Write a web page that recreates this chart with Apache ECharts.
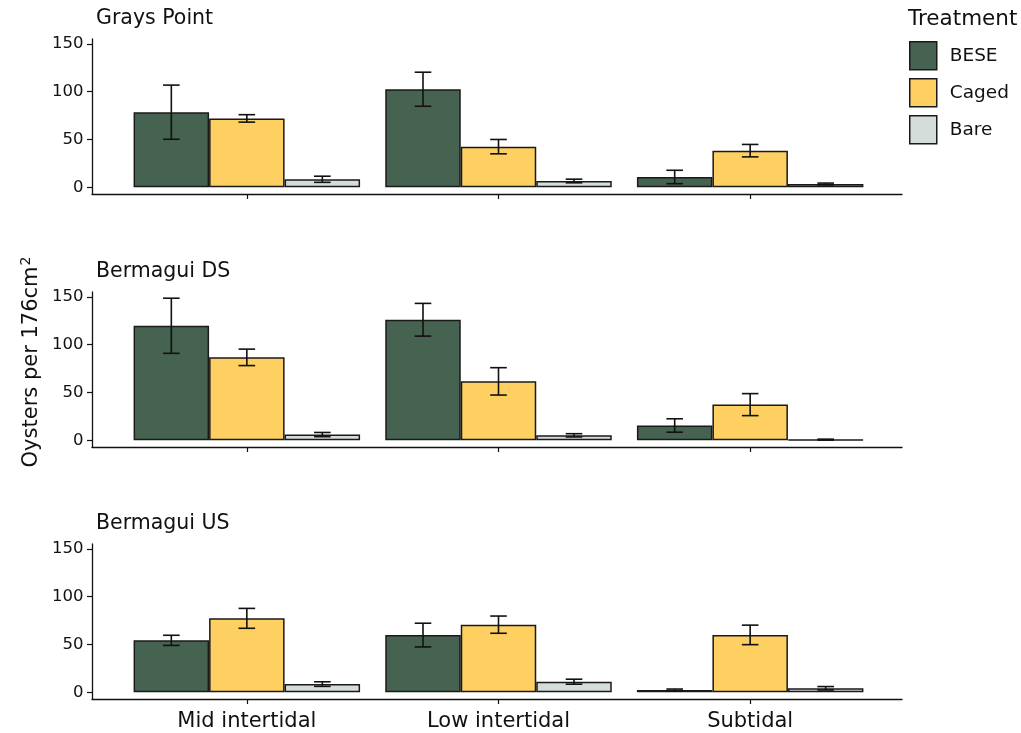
<!DOCTYPE html>
<html>
<head>
<meta charset="utf-8">
<script src="https://cdn.jsdelivr.net/npm/echarts@6/dist/echarts.min.js"></script>
<style>
  html, body { margin: 0; padding: 0; background: #fff; }
  #chart { width: 1021px; height: 733px; }
</style>
</head>
<body>
<div id="chart"></div>
<script>
  // data: mean oysters per 176cm2 and standard error
  const sites = ['Grays Point', 'Bermagui DS', 'Bermagui US']
  const zones = ['Mid intertidal', 'Low intertidal', 'Subtidal']
  const treatments = ['BESE', 'Caged', 'Bare']
  const yTicks = [0, 50, 100, 150]

  const graysBese = [78.5, 102.5, 10.8]
  const graysBeseSE = [28.3, 17.8, 7]
  const graysCaged = [72, 42.5, 38.3]
  const graysCagedSE = [3.9, 7.5, 6.5]
  const graysBare = [8.4, 6.6, 3.5]
  const graysBareSE = [3.2, 1.9, 0.9]

  const dsBese = [119.7, 126, 15.5]
  const dsBeseSE = [28.8, 17.1, 7]
  const dsCaged = [86.7, 61.6, 37.3]
  const dsCagedSE = [8.6, 14.3, 11.5]
  const dsBare = [6, 5.2, 0.7]
  const dsBareSE = [2.2, 1.7, 0.5]

  const usBese = [54.3, 59.8, 2.4]
  const usBeseSE = [5.3, 12.4, 1]
  const usCaged = [77.3, 70.7, 60]
  const usCagedSE = [10.4, 9, 10.2]
  const usBare = [8.6, 11.1, 4.2]
  const usBareSE = [2.4, 2.6, 1.8]

  const means = [
    [graysBese, graysCaged, graysBare],
    [dsBese, dsCaged, dsBare],
    [usBese, usCaged, usBare]
  ]
  const errors = [
    [graysBeseSE, graysCagedSE, graysBareSE],
    [dsBeseSE, dsCagedSE, dsBareSE],
    [usBeseSE, usCagedSE, usBareSE]
  ]

  const colors = ['#466352', '#fed062', '#d4ddda']
  const font = 'DejaVu Sans'
  const ink = '#111'
  const panelTop = [39, 292, 544]
  const panelHeight = 155

  function renderErr (params, api) {
    let band = api.size([1, 0])[0]
    let barW = band * 0.3
    let x = api.coord([api.value(0), 0])[0] + (api.value(3) - 1) * barW
    let yLo = api.coord([api.value(0), api.value(1)])[1]
    let yHi = api.coord([api.value(0), api.value(2)])[1]
    let cap = barW * 0.11
    let style = { stroke: ink, lineWidth: 1.6 }
    return {
      type: 'group',
      children: [
        { type: 'line', shape: { x1: x, y1: yLo, x2: x, y2: yHi }, style: style },
        { type: 'line', shape: { x1: x - cap, y1: yHi, x2: x + cap, y2: yHi }, style: style },
        { type: 'line', shape: { x1: x - cap, y1: yLo, x2: x + cap, y2: yLo }, style: style }
      ]
    }
  }

  let grids = []
  let xAxes = []
  let yAxes = []
  let series = []
  let titles = []

  sites.forEach(function (site, i) {
    let a = i * 2
    let b = i * 2 + 1
    // frame grid: axis lines over the full panel width
    grids.push({ left: 92, right: 119, top: panelTop[i], height: panelHeight, outerBoundsMode: 'none' })
    // bar grid: categories spaced like the ggplot discrete scale
    grids.push({ left: 121, right: 145, top: panelTop[i], height: panelHeight, outerBoundsMode: 'none' })

    xAxes.push({
      gridIndex: a,
      type: 'value',
      min: 0,
      max: 1,
      axisLine: { show: true, onZero: false, lineStyle: { color: ink, width: 1.3 } },
      axisTick: { show: false },
      axisLabel: { show: false },
      splitLine: { show: false }
    })
    xAxes.push({
      gridIndex: b,
      type: 'category',
      data: zones,
      axisLine: { show: false, onZero: false },
      axisTick: { show: true, alignWithLabel: true, length: 5, lineStyle: { color: ink, width: 1.2 } },
      axisLabel: { show: i === 2, fontSize: 21, margin: 12.5, color: ink, fontFamily: font },
      splitLine: { show: false }
    })
    yAxes.push({
      gridIndex: a,
      type: 'value',
      min: -7,
      max: 155,
      axisLine: { show: true, onZero: false, lineStyle: { color: ink, width: 1.3 } },
      axisTick: { show: true, length: 5, customValues: yTicks, lineStyle: { color: ink, width: 1.2 } },
      axisLabel: { customValues: yTicks, fontSize: 16.5, margin: 8.5, color: ink, fontFamily: font },
      splitLine: { show: false }
    })
    yAxes.push({ gridIndex: b, type: 'value', min: -7, max: 155, show: false })

    treatments.forEach(function (t, k) {
      series.push({
        name: t,
        type: 'bar',
        xAxisIndex: b,
        yAxisIndex: b,
        data: means[i][k],
        barWidth: '30%',
        barGap: '0%',
        itemStyle: { color: colors[k], borderColor: '#1a1a1a', borderWidth: 1.5 },
        emphasis: { disabled: true }
      })
    })

    let errData = []
    treatments.forEach(function (t, k) {
      means[i][k].forEach(function (m, z) {
        errData.push([z, m - errors[i][k][z], m + errors[i][k][z], k])
      })
    })
    series.push({
      type: 'custom',
      xAxisIndex: b,
      yAxisIndex: b,
      data: errData,
      encode: { x: 0, y: [1, 2] },
      renderItem: renderErr,
      z: 10,
      silent: true
    })

    titles.push({
      text: site,
      left: 96,
      top: panelTop[i] - 31,
      padding: 0,
      textStyle: { fontSize: 20.5, fontWeight: 'normal', color: ink, fontFamily: font }
    })
  })

  titles.push({
    text: 'Treatment',
    left: 908,
    top: 8,
    padding: 0,
    textStyle: { fontSize: 21.5, fontWeight: 'normal', color: ink, fontFamily: font }
  })

  let myChart = echarts.init(document.getElementById('chart'))
  let option = {
    animation: false,
    textStyle: { fontFamily: font },
    title: titles,
    legend: {
      orient: 'vertical',
      left: 909,
      top: 41,
      padding: 0,
      itemWidth: 27,
      itemHeight: 28,
      itemGap: 7.5,
      icon: 'rect',
      selectedMode: false,
      data: treatments,
      itemStyle: { borderColor: '#1a1a1a', borderWidth: 1.5 },
      textStyle: { fontSize: 18.5, color: ink, fontFamily: font, padding: [0, 0, 0, 8] }
    },
    grid: grids,
    xAxis: xAxes,
    yAxis: yAxes,
    series: series,
    graphic: [{
      type: 'text',
      x: 32,
      y: 362,
      rotation: Math.PI / 2,
      style: {
        text: 'Oysters per 176cm{sup|2}',
        fontSize: 21,
        fontFamily: font,
        fill: ink,
        align: 'center',
        verticalAlign: 'middle',
        rich: {
          sup: { fontSize: 14, fontFamily: font, fill: ink, verticalAlign: 'top', padding: [0, 0, 11, 1] }
        }
      }
    }]
  }
  myChart.setOption(option)
  window.onresize = myChart.resize
</script>
</body>
</html>
